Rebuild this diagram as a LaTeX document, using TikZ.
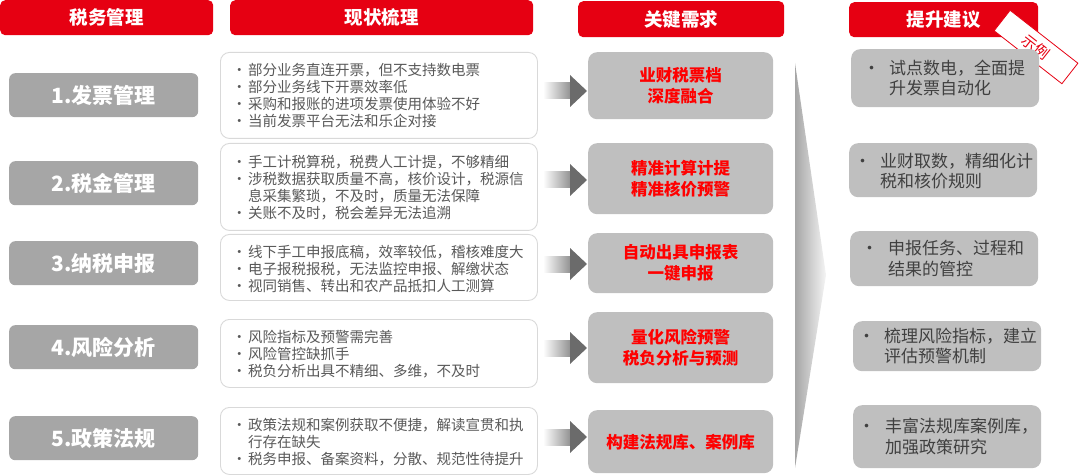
\documentclass[tikz,border=0pt]{standalone}
\usepackage{fontspec}
\setmainfont{Noto Sans CJK SC}
\usetikzlibrary{calc}
\definecolor{hred}{HTML}{E60012}
\definecolor{lgray}{HTML}{A6A6A6}
\definecolor{kgray}{HTML}{BFBFBF}
\definecolor{bordergray}{HTML}{D9D9D9}
\definecolor{midtext}{HTML}{595959}
\definecolor{righttext}{HTML}{404040}
\definecolor{keyred}{HTML}{FF0000}
\definecolor{arrowdark}{HTML}{6B6B6B}
\newcommand\mybul[1]{\makebox[16pt][l]{•}#1}
\newcommand\mycont[1]{\hspace*{16pt}#1}
\newcommand\rbul[2]{\makebox[#1pt][l]{•}\parbox[t]{150pt}{#2}}
\begin{document}
\begin{tikzpicture}[x=1pt,y=-1pt,
  header/.style={fill=hred, rounded corners=5pt, inner sep=0pt, anchor=north west,
    text=white, font=\fontsize{18.5}{20}\selectfont\bfseries},
  leftbox/.style={fill=lgray, rounded corners=6pt, inner sep=0pt, anchor=north west,
    minimum width=189pt, minimum height=44pt, text=white, font=\fontsize{21}{24}\selectfont\bfseries},
  midbox/.style={draw=bordergray, line width=0.9pt, fill=white, rounded corners=9pt, inner sep=0pt,
    anchor=north west, minimum width=317pt},
  midtxt/.style={anchor=west, inner sep=0pt, text=midtext, font=\fontsize{14.5}{17}\selectfont},
  keybox/.style={fill=kgray, rounded corners=9pt, inner sep=0pt, anchor=north west,
    minimum width=185pt, text=keyred, align=center, font=\fontsize{16.5}{21}\selectfont\bfseries},
  rightbox/.style={fill=kgray, rounded corners=9pt, inner sep=0pt, anchor=north west,
    minimum width=188pt},
  righttxt/.style={anchor=west, inner sep=0pt, text=righttext, font=\fontsize{17}{20.5}\selectfont},
]
\useasboundingbox (0,0) rectangle (1080,476);

% headers
\node[header, minimum width=213pt, minimum height=35pt] (h1) at (0,0) {税务管理};
\node[header, minimum width=303pt, minimum height=35pt] (h2) at (230,0) {现状梳理};
\node[header, minimum width=206pt, minimum height=36pt] (h3) at (578,1) {关键需求};
\node[header, minimum width=189pt, minimum height=35pt] (h4) at (849,2) {提升建议};
\node[draw=hred, line width=0.8pt, fill=white, rotate=-38, minimum width=86pt, minimum height=26pt,
  inner sep=0pt, text=hred, font=\fontsize{15}{16}\selectfont] (tag) at (1036,47) {示例};

% left boxes
\node[leftbox] (l1) at (9,73) {1.发票管理};
\node[leftbox] (l2) at (9,161) {2.税金管理};
\node[leftbox] (l3) at (9,241) {3.纳税申报};
\node[leftbox] (l4) at (9,325) {4.风险分析};
\node[leftbox] (l5) at (9,416) {5.政策法规};

% middle boxes
\node[midbox, minimum height=86pt] (m1) at (220,52) {};
\node[midbox, minimum height=87pt] (m2) at (220,143) {};
\node[midbox, minimum height=66pt] (m3) at (220,234) {};
\node[midbox, minimum height=68pt] (m4) at (220,319) {};
\node[midbox, minimum height=67pt] (m5) at (220,407) {};

\node[midtxt] (t1) at ($(m1.west)+(12,0.5)$) {\parbox{300pt}{%
\mybul{部分业务直连开票，但不支持数电票}\\
\mybul{部分业务线下开票效率低}\\
\mybul{采购和报账的进项发票使用体验不好}\\
\mybul{当前发票平台无法和乐企对接}}};
\node[midtxt] (t2) at ($(m2.west)+(12,0.5)$) {\parbox{300pt}{%
\mybul{手工计税算税，税费人工计提，不够精细}\\
\mybul{涉税数据获取质量不高，核价设计，税源信}\\
\mycont{息采集繁琐，不及时，质量无法保障}\\
\mybul{关账不及时，税会差异无法追溯}}};
\node[midtxt] (t3) at ($(m3.west)+(12,1.5)$) {\parbox{300pt}{%
\mybul{线下手工申报底稿，效率较低，稽核难度大}\\
\mybul{电子报税报税，无法监控申报、解缴状态}\\
\mybul{视同销售、转出和农产品抵扣人工测算}}};
\node[midtxt] (t4) at ($(m4.west)+(12,0.5)$) {\parbox{300pt}{%
\mybul{风险指标及预警需完善}\\
\mybul{风险管控缺抓手}\\
\mybul{税负分析出具不精细、多维，不及时}}};
\node[midtxt] (t5) at ($(m5.west)+(12,1)$) {\parbox{300pt}{%
\mybul{政策法规和案例获取不便捷，解读宣贯和执}\\
\mycont{行存在缺失}\\
\mybul{税务申报、备案资料，分散、规范性待提升}}};

% key boxes
\node[keybox, minimum height=67pt] (k1) at (588,52) {业财税票档\\深度融合};
\node[keybox, minimum height=71pt] (k2) at (588,143) {精准计算计提\\精准核价预警};
\node[keybox, minimum height=60pt] (k3) at (588,233) {自动出具申报表\\一键申报};
\node[keybox, minimum height=71pt] (k4) at (588,312) {量化风险预警\\税负分析与预测};
\node[keybox, minimum height=63pt] (k5) at (588,410) {构建法规库、案例库};

% arrows between middle and key boxes
\foreach \i/\yy in {1/91,2/180,3/264,4/348,5/437}{
  \coordinate (as\i) at ($(m\i.east |- 0,\yy)+(5,0)$);
  \coordinate (ae\i) at ($(k\i.west |- 0,\yy)+(-1,0)$);
  \shade[left color=white, right color=gray!85] ($(as\i)+(0,-8)$) rectangle ($(ae\i)+(-17,8)$);
  \fill[arrowdark] ($(ae\i)+(-17,-16)$) -- (ae\i) -- ($(ae\i)+(-17,16)$) -- cycle;
}

% big chevron
\coordinate (cv1) at (795,63);
\coordinate (cv2) at (826,275);
\coordinate (cv3) at (795,468);
\shade[left color=gray!70, right color=gray!8] (cv1) -- (cv2) -- (cv3) -- cycle;

% right boxes
\node[rightbox, minimum height=58pt] (r1) at (851,49) {};
\node[rightbox, minimum height=54pt] (r2) at (849,143) {};
\node[rightbox, minimum height=55pt] (r3) at (850,231) {};
\node[rightbox, minimum height=50pt] (r4) at (853,321) {};
\node[rightbox, minimum height=63pt] (r5) at (853,405) {};

\node[righttxt] (s1) at ($(r1.west)+(12,0)$) {\rbul{26}{试点数电，全面提\\升发票自动化}};
\node[righttxt] (s2) at ($(r2.west)+(5,1)$) {\rbul{26}{业财取数，精细化计\\税和核价规则}};
\node[righttxt] (s3) at ($(r3.west)+(11,0)$) {\rbul{27}{申报任务、过程和\\结果的管控}};
\node[righttxt] (s4) at ($(r4.west)+(5,0)$) {\rbul{26}{梳理风险指标，建立\\评估预警机制}};
\node[righttxt] (s5) at ($(r5.west)+(5,0)$) {\rbul{27}{丰富法规库案例库，\\加强政策研究}};
\end{tikzpicture}
\end{document}
